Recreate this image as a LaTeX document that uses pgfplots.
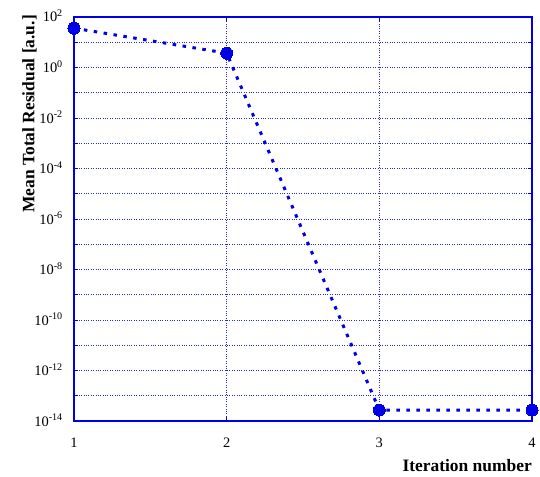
\documentclass[border=0pt]{standalone}
\usepackage{pgfplots}
\pgfplotsset{compat=1.18}
\usepackage{fontspec}
\setmainfont{Liberation Serif}
\definecolor{ablue}{RGB}{0,0,230}
\definecolor{gblue}{RGB}{40,40,220}
\begin{document}
\begin{tikzpicture}
\begin{axis}[
  scale only axis,
  width=458bp, height=404bp,
  ymode=log,
  xmin=1, xmax=4,
  ymin=1e-14, ymax=1e2,
  xtick={1,2,3,4},
  ytick={1e-14,1e-12,1e-10,1e-8,1e-6,1e-4,1e-2,1,1e2},
  yticklabels={10\textsuperscript{-14},10\textsuperscript{-12},10\textsuperscript{-10},10\textsuperscript{-8},10\textsuperscript{-6},10\textsuperscript{-4},10\textsuperscript{-2},10\textsuperscript{0},10\textsuperscript{2}},
  minor ytick={1e-13,1e-11,1e-9,1e-7,1e-5,1e-3,1e-1,1e1},
  /pgf/number format/assume math mode=true,
  grid=both,
  major grid style={gblue, dotted, line width=0.6pt},
  minor grid style={gblue, dotted, line width=0.6pt},
  axis line style={ablue, line width=1.4pt},
  tick style={ablue, line width=0.8pt},
  major tick length=4pt, minor tick length=4pt,
  tick align=inside,
  tick label style={font=\fontsize{14.5}{16}\selectfont, inner sep=0pt},
  xticklabel style={anchor=north, yshift=-17bp},
  yticklabel style={anchor=base east, xshift=-11bp, yshift=-5bp},
  xlabel={\textbf{Iteration number}},
  ylabel={\textbf{Mean Total Residual [a.u.]}},
  label style={font=\fontsize{17.5}{20}\selectfont, inner sep=0pt},
  xlabel style={at={(rel axis cs:1,-0.126)}, anchor=base east},
  ylabel style={at={(rel axis cs:-0.0808,1.005)}, anchor=south east},
  clip=false,
]
\addplot[color=ablue, line width=3bp, dash pattern=on 3.5bp off 6.5bp,
  mark=*, mark size=6bp, mark options={solid, fill=ablue, draw=ablue, line width=0pt}]
  coordinates {(1,36) (2,3.7) (3,2.7e-14) (4,2.7e-14)};
\end{axis}
\pgfresetboundingbox
\path (-74bp,-56bp) rectangle (466bp,421bp);
\end{tikzpicture}
\end{document}
